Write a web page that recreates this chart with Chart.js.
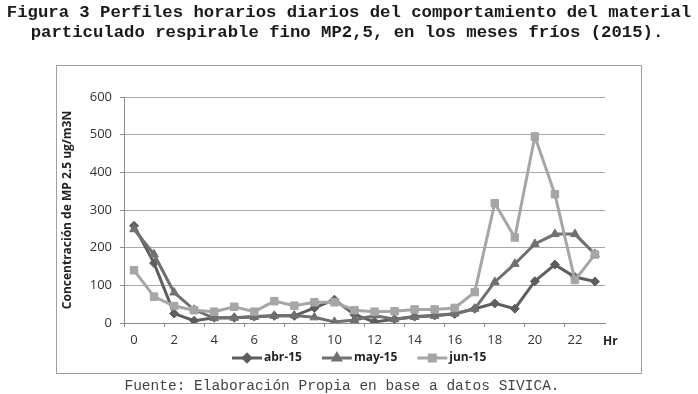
<!DOCTYPE html>
<html>
<head>
<meta charset="utf-8">
<script src="https://cdn.jsdelivr.net/npm/chart.js@4/dist/chart.umd.min.js"></script>
<style>
  html, body { margin: 0; padding: 0; background: #fff; }
  #wrap { width: 698px; height: 394px; }
</style>
</head>
<body>
<div id="wrap"><canvas id="chart" width="698" height="394"></canvas></div>
<script>
const hours = ['0','1','2','3','4','5','6','7','8','9','10','11','12','13','14','15','16','17','18','19','20','21','22','23'];
const abr15 = [258, 159, 25, 6, 14, 14, 17, 19, 19, 40, 62, 22, 3, 10, 17, 20, 24, 38, 52, 38, 111, 155, 122, 110];
const may15 = [249, 182, 81, 35, 13, 14, 16, 19, 20, 15, 3, 8, 20, 10, 16, 19, 25, 38, 109, 157, 210, 236, 236, 183];
const jun15 = [140, 70, 45, 34, 30, 43, 30, 58, 46, 55, 55, 34, 30, 31, 36, 36, 40, 82, 318, 227, 495, 342, 114, 182];

const titleLines = [
  'Figura 3 Perfiles horarios diarios del comportamiento del material',
  'particulado respirable fino MP2,5, en los meses fríos (2015).'
];
const sourceText = 'Fuente: Elaboración Propia en base a datos SIVICA.';
const yTitle = 'Concentración de MP 2.5 ug/m3N';
const xUnit = 'Hr';

const sans = '"Open Sans", "Noto Sans", sans-serif';
const mono = '"Liberation Mono", "DejaVu Sans Mono", monospace';

// frame, titles, legend and the Hr label
const decor = {
  id: 'decor',
  beforeDraw(chart) {
    const ctx = chart.ctx;
    ctx.save();
    ctx.fillStyle = '#fff';
    ctx.fillRect(0, 0, chart.width, chart.height);
    ctx.strokeStyle = '#a0a0a0';
    ctx.lineWidth = 1;
    ctx.strokeRect(56.5, 65.5, 585, 308);
    ctx.restore();
  },
  afterDraw(chart) {
    const ctx = chart.ctx;
    ctx.save();
    ctx.fillStyle = '#1a1a1a';
    ctx.textAlign = 'center';
    ctx.textBaseline = 'middle';
    ctx.font = 'bold 17.3px ' + mono;
    ctx.fillText(titleLines[0], 349, 13);
    ctx.fillText(titleLines[1], 347, 33);

    ctx.font = '14.5px ' + mono;
    ctx.fillStyle = '#444';
    ctx.fillText(sourceText, 342, 386);

    ctx.font = 'bold 12px ' + sans;
    ctx.fillStyle = '#222';
    ctx.textAlign = 'left';
    ctx.fillText(xUnit, 603, 342);

    // legend: line with marker, like the spreadsheet one
    let x = 232;
    const y = 358;
    chart.data.datasets.forEach(ds => {
      ctx.strokeStyle = ds.borderColor;
      ctx.lineWidth = 3;
      ctx.beginPath();
      ctx.moveTo(x, y);
      ctx.lineTo(x + 30, y);
      ctx.stroke();
      ctx.fillStyle = ds.backgroundColor;
      Chart.helpers.drawPoint(ctx, {
        pointStyle: ds.pointStyle,
        radius: ds.pointRadius * 0.8,
        borderWidth: 1,
        rotation: 0
      }, x + 15, y);
      ctx.fillStyle = '#222';
      ctx.font = 'bold 12px ' + sans;
      ctx.fillText(ds.label, x + 32, y);
      x += 32 + ctx.measureText(ds.label).width + 20;
    });
    ctx.restore();
  }
};

const ctx = document.getElementById('chart').getContext('2d');
new Chart(ctx, {
  type: 'line',
  data: {
    labels: hours,
    datasets: [
      {
        label: 'abr-15',
        data: abr15,
        borderColor: '#5e5e5e',
        backgroundColor: '#5e5e5e',
        borderWidth: 3,
        pointStyle: 'rectRot',
        pointRadius: 4.5,
        pointBorderWidth: 1,
        tension: 0,
        order: 2
      },
      {
        label: 'may-15',
        data: may15,
        borderColor: '#707070',
        backgroundColor: '#707070',
        borderWidth: 3,
        pointStyle: 'triangle',
        pointRadius: 5,
        pointBorderWidth: 1,
        tension: 0,
        order: 1
      },
      {
        label: 'jun-15',
        data: jun15,
        borderColor: '#a6a6a6',
        backgroundColor: '#a6a6a6',
        borderWidth: 3,
        pointStyle: 'rect',
        pointRadius: 5.3,
        pointBorderWidth: 1,
        tension: 0,
        order: 0
      }
    ]
  },
  options: {
    responsive: false,
    animation: false,
    layout: {
      padding: { left: 56, right: 93, top: 97, bottom: 41 }
    },
    plugins: {
      legend: { display: false },
      title: { display: false },
      tooltip: { enabled: false }
    },
    scales: {
      x: {
        type: 'category',
        offset: true,
        afterFit(scale) { scale.height = 30; },
        grid: {
          offset: true,
          drawOnChartArea: false,
          drawTicks: true,
          tickLength: 4,
          tickColor: c => (c.index % 2 === 0 ? '#8c8c8c' : 'rgba(0,0,0,0)')
        },
        border: { color: '#8c8c8c', width: 1 },
        ticks: {
          autoSkip: false,
          maxRotation: 0,
          padding: 5,
          color: '#333',
          font: { family: sans, size: 13 },
          callback: (v, i) => (i % 2 === 0 ? hours[i] : '')
        }
      },
      y: {
        min: 0,
        max: 600,
        afterFit(scale) { scale.width = 68; },
        grid: {
          color: '#a8a8a8',
          lineWidth: 1,
          drawTicks: true,
          tickLength: 4,
          tickColor: '#8c8c8c'
        },
        border: { color: '#8c8c8c', width: 1 },
        ticks: {
          stepSize: 100,
          padding: 8,
          color: '#333',
          font: { family: sans, size: 13 }
        },
        title: {
          display: true,
          text: yTitle,
          color: '#222',
          padding: { top: 4, bottom: 0 },
          font: { family: sans, size: 12, weight: 'bold' }
        }
      }
    }
  },
  plugins: [decor]
});
</script>
</body>
</html>
